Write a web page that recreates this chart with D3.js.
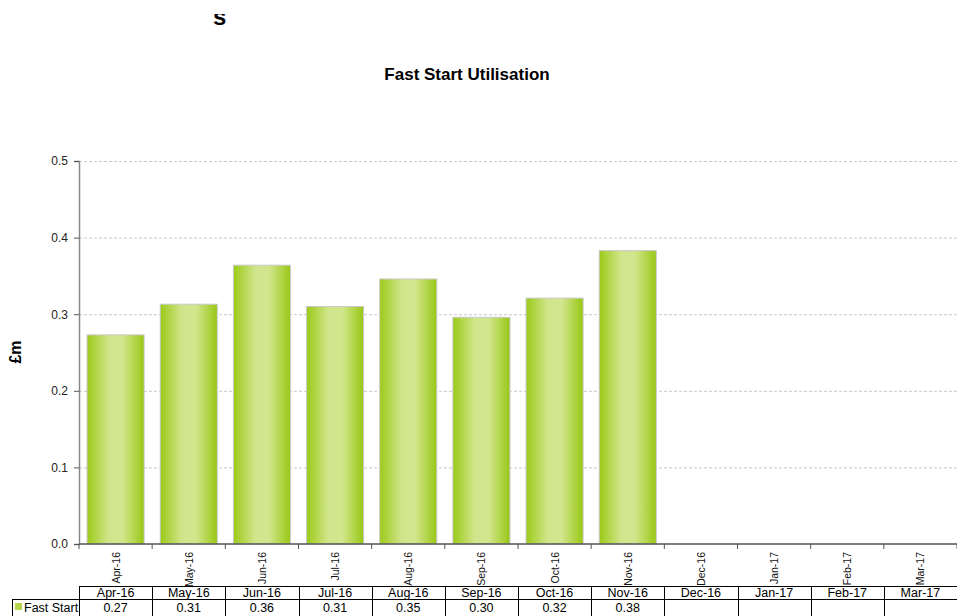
<!DOCTYPE html>
<html><head><meta charset="utf-8">
<script src="https://cdn.jsdelivr.net/npm/d3@7"></script>
<style>body{margin:0;background:#fff}svg{display:block}text{font-family:"Liberation Sans",Arial,sans-serif}</style>
</head><body>
<svg id="c" width="957" height="616"></svg>
<script>
const categories=["Apr-16","May-16","Jun-16","Jul-16","Aug-16","Sep-16","Oct-16","Nov-16","Dec-16","Jan-17","Feb-17","Mar-17"];
const fastStart=[0.273,0.313,0.364,0.310,0.346,0.296,0.321,0.383,null,null,null,null];
const tableLabels=["0.27","0.31","0.36","0.31","0.35","0.30","0.32","0.38","","","",""];
const yTicks=[0,0.1,0.2,0.3,0.4,0.5];
const seriesName="Fast Start";

const svg=d3.select("#c");
const L=79,R=957,T=161,B=544;
const x=d3.scaleBand().domain(categories).range([L,R]).paddingInner(0.22).paddingOuter(0.11);
const xb=d3.scaleBand().domain(categories).range([L,R]);
const y=d3.scaleLinear().domain([0,0.5]).range([B,T]);

const defs=svg.append("defs");
const g=defs.append("linearGradient").attr("id","bg").attr("x1","0").attr("x2","1").attr("y1","0").attr("y2","0");
[[0,"#9bca17"],[0.38,"#d0e58b"],[0.62,"#d2e68e"],[1,"#98c814"]].forEach(s=>g.append("stop").attr("offset",s[0]).attr("stop-color",s[1]));
defs.append("clipPath").attr("id","topclip").append("rect").attr("x",0).attr("y",14).attr("width",300).attr("height",30);

// clipped top glyph
svg.append("text").attr("clip-path","url(#topclip)").attr("x",213).attr("y",25).attr("font-size",24).attr("font-weight","bold").attr("fill","#000").text("s");

svg.append("text").attr("x",467).attr("y",80).attr("text-anchor","middle").attr("font-size",17).attr("font-weight","bold").text("Fast Start Utilisation");

// grid
svg.append("g").selectAll("line").data(yTicks.filter(d=>d>0)).join("line")
 .attr("x1",L).attr("x2",R).attr("y1",d=>y(d)+0.5).attr("y2",d=>y(d)+0.5)
 .attr("stroke","#c8c8c8").attr("stroke-dasharray","3,2");

// bars
svg.append("g").selectAll("rect").data(categories.map((c,i)=>({c,v:fastStart[i]})).filter(d=>d.v!=null)).join("rect")
 .attr("x",d=>x(d.c)).attr("width",x.bandwidth()).attr("y",d=>y(d.v)).attr("height",d=>B-y(d.v))
 .attr("fill","url(#bg)").attr("stroke","#c9c9c9").attr("stroke-width",1);

// y axis
const ya=svg.append("g").attr("transform",`translate(${L},0)`).call(d3.axisLeft(y).tickValues(yTicks).tickFormat(d3.format(".1f")).tickSize(5));
ya.select(".domain").attr("stroke","#888").attr("stroke-width",1.5);
ya.selectAll(".tick line").attr("stroke","#555");
ya.selectAll("text").attr("font-size",12).attr("fill","#222").attr("dx",-3);

// x axis
const xa=svg.append("g").attr("transform",`translate(0,${B})`);
xa.append("line").attr("x1",L).attr("x2",R).attr("stroke","#555").attr("stroke-width",1.5);
xa.selectAll("line.t").data(categories.concat(["end"])).join("line").attr("class","t")
 .attr("x1",(d,i)=>L+i*xb.bandwidth()).attr("x2",(d,i)=>L+i*xb.bandwidth()).attr("y1",0).attr("y2",5).attr("stroke","#555");
xa.selectAll("text").data(categories).join("text")
 .attr("transform",d=>`translate(${xb(d)+xb.bandwidth()/2+4},8) rotate(-90)`)
 .attr("text-anchor","end").attr("font-size",10.5).attr("fill","#111").text(d=>d);

// y label
svg.append("text").attr("transform","translate(21,352) rotate(-90)").attr("text-anchor","middle").attr("font-size",16).attr("font-weight","bold").text("£m");

// table
const t=svg.append("g");
const r0=586,r1=599,r2=616;
t.append("line").attr("x1",L).attr("x2",R).attr("y1",r0+0.5).attr("y2",r0+0.5).attr("stroke","#000");
t.append("line").attr("x1",12).attr("x2",R).attr("y1",r1+0.5).attr("y2",r1+0.5).attr("stroke","#000");
t.append("line").attr("x1",12.5).attr("x2",12.5).attr("y1",r1).attr("y2",r2).attr("stroke","#000");
t.selectAll("line.v").data(categories.concat(["end"])).join("line").attr("class","v")
 .attr("x1",(d,i)=>Math.round(L+i*xb.bandwidth())+0.5).attr("x2",(d,i)=>Math.round(L+i*xb.bandwidth())+0.5)
 .attr("y1",r0).attr("y2",r2).attr("stroke","#000");
t.selectAll("text.h").data(categories).join("text").attr("class","h")
 .attr("x",d=>xb(d)+xb.bandwidth()/2).attr("y",r1-2).attr("text-anchor","middle").attr("font-size",12.5).text(d=>d);
t.selectAll("text.d").data(tableLabels).join("text").attr("class","d")
 .attr("x",(d,i)=>xb(categories[i])+xb.bandwidth()/2).attr("y",r1+13).attr("text-anchor","middle").attr("font-size",12.5).text(d=>d);
t.append("rect").attr("x",15).attr("y",r1+4).attr("width",7).attr("height",7).attr("fill","#b5d64e");
t.append("text").attr("x",24).attr("y",r1+13).attr("font-size",12.5).text(seriesName);
</script>
</body></html>
